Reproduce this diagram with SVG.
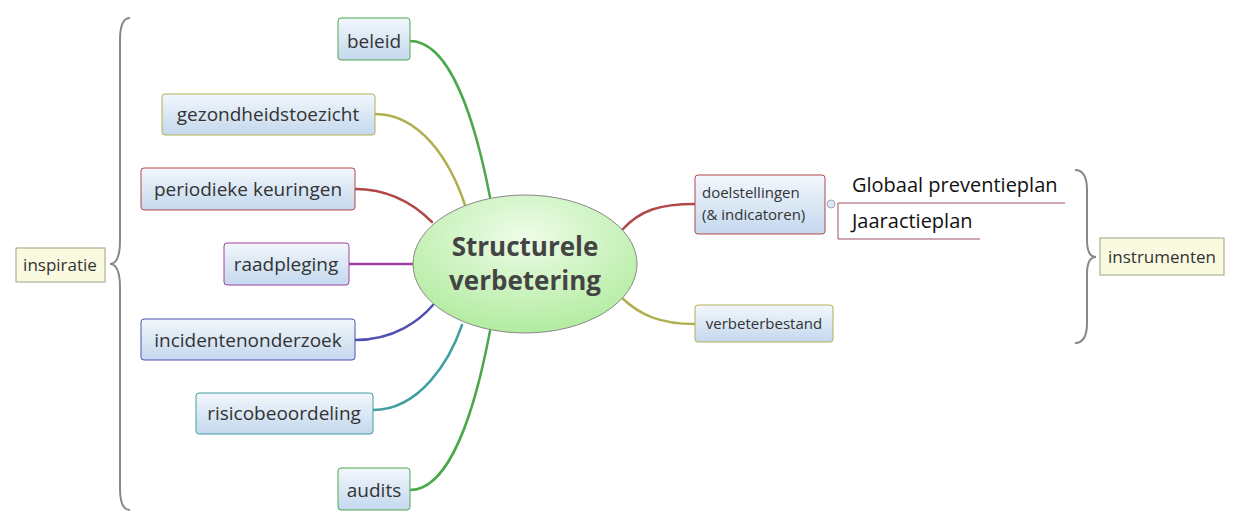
<svg xmlns="http://www.w3.org/2000/svg" width="1240" height="529" viewBox="0 0 1240 529">
<defs>
<linearGradient id="bg" x1="0" y1="0" x2="0" y2="1"><stop offset="0" stop-color="#f2f7fc"/><stop offset="1" stop-color="#c4d8ee"/></linearGradient>
<radialGradient id="cg" cx="0.5" cy="0.3" r="0.7"><stop offset="0" stop-color="#eefce8"/><stop offset="1" stop-color="#b2eca0"/></radialGradient>
</defs>
<style>
.n{fill:url(#bg);stroke-width:1}
.t{font-family:"Open Sans","Noto Sans",sans-serif;fill:#333;font-size:19px}
.s{font-size:15px}
.y{fill:#fafae0;stroke:#a0a080}
.c{fill:none;stroke-width:2.5;stroke-linecap:round}
.b{fill:none;stroke:#888;stroke-width:2}
</style>
<rect width="1240" height="529" fill="#fff"/>
<g id="connectors">
<path class="c" stroke="#4ca84c" d="M410,41 C450,41 475,120 490,197"/>
<path class="c" stroke="#b0b050" d="M375,114 C420,114 450,160 465,205"/>
<path class="c" stroke="#b04848" d="M355,189 C390,189 415,205 432,222"/>
<path class="c" stroke="#a040a0" d="M349,264 L413,264"/>
<path class="c" stroke="#5050b0" d="M355,340 C395,340 420,320 433,305"/>
<path class="c" stroke="#40a0a0" d="M373,410 C420,410 450,360 462,325"/>
<path class="c" stroke="#4ca84c" d="M410,490 C450,490 475,410 490,331"/>
<path class="c" stroke="#b04848" d="M622,230 C640,210 660,204 695,204"/>
<path class="c" stroke="#b0b050" d="M622,298 C640,315 660,324 695,324"/>
<path fill="none" stroke="#a05060" stroke-width="1" d="M838,203 H1065 M838,203 V239 H980"/>
<circle cx="831" cy="204" r="4" fill="#dde8f4" stroke="#9ab"/>
<path class="b" d="M130,18 Q120,18 120,40 V240 Q120,264 110,264 Q120,264 120,288 V488 Q120,510 130,510"/>
<path class="b" d="M1075,170 Q1087,170 1087,190 V240 Q1087,257 1096,257 Q1087,257 1087,274 V323 Q1087,343 1075,343"/>
</g>
<g id="center"><ellipse cx="525" cy="264" rx="112" ry="69" fill="url(#cg)" stroke="#888"/>
<text class="t" x="525" y="256" text-anchor="middle" font-weight="bold" style="font-size:26px;fill:#444">Structurele</text>
<text class="t" x="525" y="290" text-anchor="middle" font-weight="bold" style="font-size:26px;fill:#444">verbetering</text></g>
<g id="beleid"><rect class="n" x="338" y="18" width="72" height="42" rx="3" stroke="#4ca84c"/><text class="t" x="374" y="48" text-anchor="middle">beleid</text></g>
<g id="gezondheidstoezicht"><rect class="n" x="162" y="94" width="213" height="41" rx="3" stroke="#b0b050"/><text class="t" x="268" y="121" text-anchor="middle">gezondheidstoezicht</text></g>
<g id="periodieke"><rect class="n" x="141" y="168" width="214" height="42" rx="3" stroke="#b04848"/><text class="t" x="248" y="196" text-anchor="middle">periodieke keuringen</text></g>
<g id="raadpleging"><rect class="n" x="224" y="243" width="125" height="42" rx="3" stroke="#a040a0"/><text class="t" x="286" y="271" text-anchor="middle">raadpleging</text></g>
<g id="incidentenonderzoek"><rect class="n" x="141" y="319" width="214" height="41" rx="3" stroke="#5050b0"/><text class="t" x="248" y="347" text-anchor="middle">incidentenonderzoek</text></g>
<g id="risicobeoordeling"><rect class="n" x="196" y="393" width="177" height="41" rx="3" stroke="#40a0a0"/><text class="t" x="284" y="420" text-anchor="middle">risicobeoordeling</text></g>
<g id="audits"><rect class="n" x="338" y="468" width="72" height="42" rx="3" stroke="#4ca84c"/><text class="t" x="374" y="497" text-anchor="middle">audits</text></g>
<g id="doelstellingen"><rect class="n" x="695" y="175" width="130" height="59" rx="3" stroke="#b04848"/><text class="t s" x="702" y="198">doelstellingen</text><text class="t s" x="702" y="220">(&amp; indicatoren)</text></g>
<g id="verbeterbestand"><rect class="n" x="695" y="305" width="138" height="37" rx="3" stroke="#b0b050"/><text class="t s" x="764" y="329" text-anchor="middle">verbeterbestand</text></g>
<g id="globaal"><text class="t" x="852" y="192" style="fill:#111;font-size:20px">Globaal preventieplan</text></g>
<g id="jaaractieplan"><text class="t" x="852" y="228" style="fill:#111;font-size:20px">Jaaractieplan</text></g>
<g id="inspiratie"><rect class="y" x="16" y="248" width="89" height="34"/><text class="t" x="60" y="271" text-anchor="middle" style="font-size:17px">inspiratie</text></g>
<g id="instrumenten"><rect class="y" x="1100" y="238" width="124" height="37"/><text class="t" x="1162" y="263" text-anchor="middle" style="font-size:17px">instrumenten</text></g>
</svg>
